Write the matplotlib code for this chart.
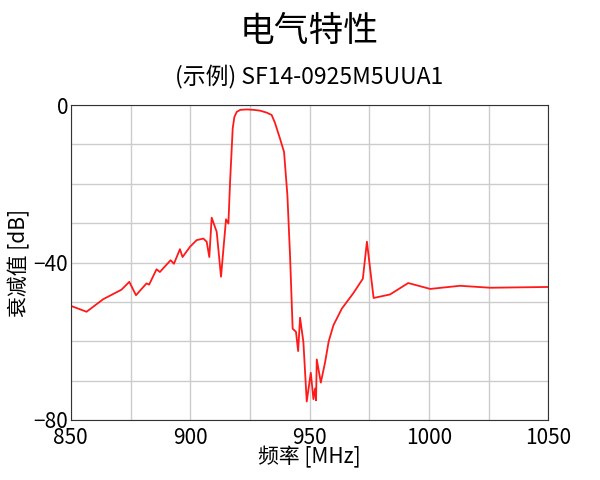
import matplotlib
matplotlib.use("Agg")
import matplotlib.pyplot as plt
import numpy as np

plt.rcParams['font.family'] = ['Noto Sans CJK SC', 'DejaVu Sans']

freq = [850, 856.6, 863.6, 871.2, 874.5, 877.3, 881.7, 882.8, 885.9, 887.3, 891.8, 893.2,
        895.7, 896.8, 899.9, 902.7, 905.5, 906.9, 908, 909, 911.1, 912.9, 915, 916, 916.7,
        917.8, 918.5, 919.5, 921, 923.7, 926.5, 929.2, 932, 934.1, 935.5, 937.6, 939.3, 940.7,
        941.8, 942.9, 944.3, 945.2,
        946, 947.4, 948.8, 950.5, 951.6, 952.3, 952.7, 953, 954.7, 956.5, 958, 960, 963.5, 968.4,
        972.3, 974, 976.8, 983.7, 991.3, 1000.5, 1013, 1025.7, 1050]
atten = [-51, -52.5, -49.3, -46.9, -44.9, -48.3, -45.3, -45.6, -41.7, -42.4, -39.4, -40.3,
         -36.6, -38.6, -36, -34.3, -33.9, -34.7, -38.6, -28.6, -32.2, -43.6, -29, -30.1, -19.5,
         -5.9, -3.0, -1.7, -1.2, -1.1, -1.2, -1.4, -1.9, -2.5, -4.5, -8.5, -11.9, -22.9,
         -38.1, -56.8, -57.6, -62.5,
         -54, -60.2, -75.3, -68, -74.7, -72, -75, -64.6, -70.5, -65.3, -60, -55.9, -51.7, -47.7,
         -44.1, -34.7, -49, -48.1, -45.2, -46.7, -45.9, -46.4, -46.2]

fig = plt.figure(figsize=(6, 4.8), dpi=100)
ax = fig.add_axes([0.118, 0.125, 0.796, 0.656])
ax.plot(freq, atten, color="#ff1a1a", linewidth=1.3)

ax.set_xlim(850, 1050)
ax.set_ylim(-80, 0)
ax.set_xticks(np.arange(850, 1051, 25), minor=True)
ax.set_xticks([850, 900, 950, 1000, 1050])
ax.set_yticks(np.arange(-80, 1, 10), minor=True)
ax.set_yticks([-80, -40, 0])
ax.grid(True, which="both", color="#cccccc", linewidth=1)
ax.tick_params(which="both", length=0, labelsize=15)
ax.tick_params(axis="x", pad=5)
ax.tick_params(axis="y", pad=2)
for s in ax.spines.values():
    s.set_color("#333333")

ax.set_xlabel("频率 [MHz]", fontsize=15, labelpad=-2)
ax.set_ylabel("衰减值 [dB]", fontsize=15, labelpad=2)
fig.text(0.515, 0.935, "电气特性", ha="center", va="center", fontsize=25)
fig.text(0.515, 0.838, "(示例) SF14-0925M5UUA1", ha="center", va="center", fontsize=16.5)

fig.savefig("out.png")
